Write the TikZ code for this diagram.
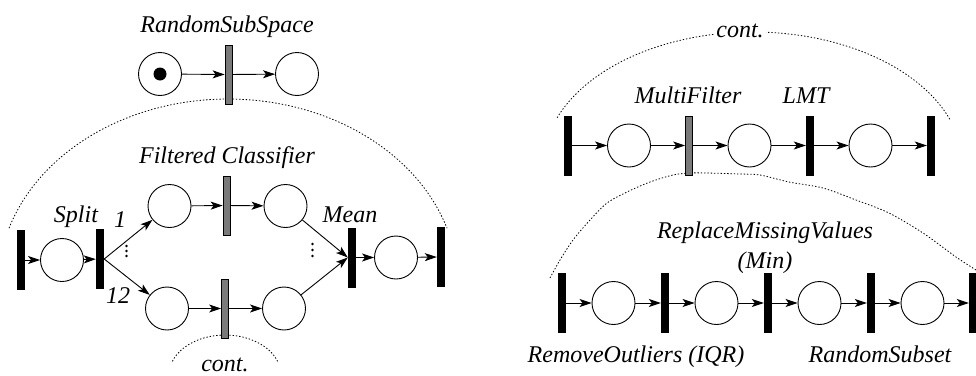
\documentclass[tikz,border=0pt]{standalone}
\usepackage{fontspec}
\setmainfont{Liberation Serif}
\newfontfamily\lblfont{Liberation Serif}
\usetikzlibrary{arrows.meta}
\begin{document}
\begin{tikzpicture}[x=1pt,y=-1pt,
  place/.style={circle,draw,line width=0.9pt,minimum size=43pt,inner sep=0pt},
  btrans/.style={rectangle,fill=black,draw=none,minimum width=8pt,minimum height=60pt,inner sep=0pt},
  gtrans/.style={rectangle,fill=black!52,draw=black,line width=0.7pt,minimum width=7pt,minimum height=59pt,inner sep=0pt},
  arr/.style={-{Stealth[length=12pt,width=8pt,inset=3pt]},line width=0.9pt},
  lbl/.style={font=\lblfont\itshape\fontsize{24}{28}\selectfont,inner sep=0pt,anchor=base},
  contarc/.style={line width=0.8pt,dash pattern=on 1.4pt off 1.9pt},
  dotmark/.style={circle,fill=black,minimum size=2.6pt,inner sep=0pt}
]
\useasboundingbox (0,0) rectangle (976,375);
\clip (0,0) rectangle (976,375);

% dotted continuation arcs
\draw[contarc] plot[domain=-162.2:-17.8,samples=80] ({228+230*cos(\x)},{285+186*sin(\x)});
\draw[contarc] plot[domain=-160:-20,samples=40] ({225+56*cos(\x)},{375+40*sin(\x)});
\draw[contarc] plot[domain=-158.9:-20.3,samples=80] ({753+210*cos(\x)},{166+134*sin(\x)});
\draw[contarc] plot[smooth] coordinates {(550,278) (560,260) (573,240) (590,220) (607,203) (627,192) (650,182) (673,175) (690,173) (707,173) (740,174) (760,175) (789,182) (823,188) (856,200) (889,213) (923,233) (956,257) (976,270)};

% ---- top-left: RandomSubSpace
\node[place] (p0) at (160,74) {};
\node[circle,fill=black,minimum size=13pt,inner sep=0pt] (tok) at (p0) {};
\node[gtrans] (t0) at (228.5,74.5) {};
\node[place] (p1) at (297,74) {};
\node[lbl] (lrss) at (227,32) {RandomSubSpace};
\draw[arr] (p0) -- (t0);
\draw[arr] (t0) -- (p1);

% ---- lower-left net
\node[btrans] (ta) at (20.5,260) {};
\node[place] (pa) at (62,260) {};
\node[btrans] (tsplit) at (100,259) {};
\node[place] (pu1) at (169.5,206) {};
\node[gtrans] (tgu) at (226.5,205.5) {};
\node[place] (pu2) at (285.5,206) {};
\node[place] (pl1) at (167,308.5) {};
\node[gtrans] (tgl) at (225,308.5) {};
\node[place] (pl2) at (284,308.5) {};
\node[btrans] (tmean) at (352,257.5) {};
\node[place] (pb) at (396,257.5) {};
\node[btrans] (tb) at (441,257) {};

\draw[arr] (ta) -- (pa);
\draw[arr] (pa) -- (tsplit);
\draw[arr] (tsplit.east) -- (pu1);
\draw[arr] (tsplit.east) -- (pl1);
\draw[arr] (pu1) -- (tgu);
\draw[arr] (tgu) -- (pu2);
\draw[arr] (pl1) -- (tgl);
\draw[arr] (tgl) -- (pl2);
\draw[arr] (pu2) -- (tmean.west);
\draw[arr] (pl2) -- (tmean.west);
\draw[arr] (tmean) -- (pb);
\draw[arr] (pb) -- (tb.west);

\node[lbl] (lfc) at (227,163) {Filtered Classifier};
\node[lbl] (lsplit) at (76,222) {Split};
\node[lbl] (lmean) at (350,222) {Mean};
\node[lbl] (lone) at (120,227) {1};
\node[lbl] (ltwelve) at (118,303) {12};
\node[lbl] (lcont1) at (225,371) {cont.};

\node[dotmark] (d1) at (126.5,246) {};
\node[dotmark] (d2) at (126.5,251) {};
\node[dotmark] (d3) at (126.5,256) {};
\node[dotmark] (e1) at (312.5,244) {};
\node[dotmark] (e2) at (312.5,250) {};
\node[dotmark] (e3) at (312.5,256) {};

% ---- right, row 1
\node[btrans] (r1t1) at (568,145.5) {};
\node[place] (r1p1) at (629,145.5) {};
\node[gtrans] (r1t2) at (689,145.5) {};
\node[place] (r1p2) at (749.5,145.5) {};
\node[btrans] (r1t3) at (810,145.5) {};
\node[place] (r1p3) at (870.5,145.5) {};
\node[btrans] (r1t4) at (931,145.5) {};
\draw[arr] (r1t1) -- (r1p1);
\draw[arr] (r1p1) -- (r1t2);
\draw[arr] (r1t2) -- (r1p2);
\draw[arr] (r1p2) -- (r1t3);
\draw[arr] (r1t3) -- (r1p3);
\draw[arr] (r1p3) -- (r1t4);
\node[lbl] (lmf) at (688,103) {MultiFilter};
\node[lbl] (llmt) at (806,103) {LMT};
\node[lbl,fill=white,inner xsep=2pt,inner ysep=1pt] (lcont2) at (740,37) {cont.};

% ---- right, row 2
\node[btrans] (r2t1) at (562,303) {};
\node[place] (r2p1) at (613.5,303) {};
\node[btrans] (r2t2) at (665,303) {};
\node[place] (r2p2) at (716.5,303) {};
\node[btrans] (r2t3) at (768,303) {};
\node[place] (r2p3) at (819.5,303) {};
\node[btrans] (r2t4) at (871,303) {};
\node[place] (r2p4) at (922.5,303) {};
\node[btrans] (r2t5) at (973,303) {};
\draw[arr] (r2t1) -- (r2p1);
\draw[arr] (r2p1) -- (r2t2);
\draw[arr] (r2t2) -- (r2p2);
\draw[arr] (r2p2) -- (r2t3);
\draw[arr] (r2t3) -- (r2p3);
\draw[arr] (r2p3) -- (r2t4);
\draw[arr] (r2t4) -- (r2p4);
\draw[arr] (r2p4) -- (r2t5);
\node[lbl] (lrmv) at (765,238) {ReplaceMissingValues};
\node[lbl] (lmin) at (765,268) {(Min)};
\node[lbl] (lro) at (636,362) {RemoveOutliers (IQR)};
\node[lbl] (lrs) at (880,362) {RandomSubset};
\end{tikzpicture}
\end{document}
